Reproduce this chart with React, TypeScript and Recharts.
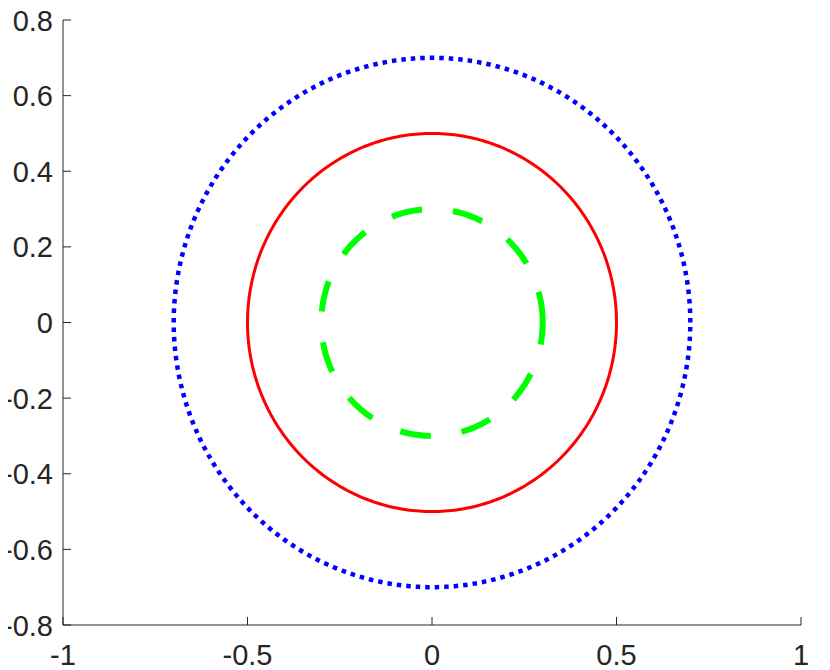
import React from "react";
import { LineChart, Line, XAxis, YAxis } from "recharts";

// Circle radii
const seriesNames = ["outer", "middle", "inner"];
const radii = [0.7, 0.5, 0.3];
const colors = ["#0000ff", "#ff0000", "#00ff00"];
const xTicks = [-1, -0.5, 0, 0.5, 1];
const yTicks = [-0.8, -0.6, -0.4, -0.2, 0, 0.2, 0.4, 0.6, 0.8];

const STEPS = 360;
const circle = (r: number) => {
  const pts: { x: number; y: number }[] = [];
  for (let i = 0; i <= STEPS; i++) {
    const t = (i / STEPS) * 2 * Math.PI;
    pts.push({ x: r * Math.cos(t), y: r * Math.sin(t) });
  }
  return pts;
};

const FONT = "'Liberation Sans', Arial, Helvetica, sans-serif";
const TXT = "#262626";
const AX = "#262626";
const FS = 29;
const TL = 8;

const fmt = (v: number) => (v === 0 ? "0" : String(v));

const BottomTick = (p: any) => (
  <g>
    <line x1={p.x} x2={p.x} y1={p.y} y2={p.y - TL} stroke={AX} strokeWidth={1} />
    <text x={p.x} y={p.y + 40} textAnchor="middle" fill={TXT} fontSize={FS} fontFamily={FONT}>
      {fmt(p.payload.value)}
    </text>
  </g>
);
const TopTick = (p: any) => (
  <line x1={p.x} x2={p.x} y1={p.y} y2={p.y + TL} stroke={AX} strokeWidth={1} />
);
const LeftTick = (p: any) => (
  <g>
    <line x1={p.x} x2={p.x + TL} y1={p.y} y2={p.y} stroke={AX} strokeWidth={1} />
    <text x={p.x - 10} y={p.y + 10.5} textAnchor="end" fill={TXT} fontSize={FS} fontFamily={FONT}>
      {fmt(p.payload.value)}
    </text>
  </g>
);
const RightTick = (p: any) => (
  <line x1={p.x} x2={p.x - TL} y1={p.y} y2={p.y} stroke={AX} strokeWidth={1} />
);

export default function App() {
  const styles = [
    { strokeWidth: 4.5, strokeDasharray: "4.5 5" },
    { strokeWidth: 3, strokeDasharray: undefined },
    { strokeWidth: 6, strokeDasharray: "31 31" },
  ];
  return (
    <div style={{ marginTop: -8, marginLeft: -8, width: 830, height: 670 }}>
      <LineChart width={830} height={670} margin={{ top: 20, right: 29, bottom: 0, left: 0 }}>
        <XAxis
          xAxisId="b"
          type="number"
          dataKey="x"
          domain={[-1, 1]}
          ticks={xTicks}
          allowDataOverflow
          tickSize={0}
          tickMargin={0}
          height={45}
          tick={<BottomTick />}
          axisLine={{ stroke: AX, strokeWidth: 1 }}
          tickLine={false}
        />
        <XAxis
          xAxisId="t"
          orientation="top"
          type="number"
          dataKey="x"
          domain={[-1, 1]}
          ticks={xTicks}
          allowDataOverflow
          tickSize={0}
          tickMargin={0}
          height={0}
          tick={<TopTick />}
          axisLine={{ stroke: AX, strokeWidth: 1 }}
          tickLine={false}
        />
        <YAxis
          yAxisId="l"
          type="number"
          domain={[-0.8, 0.8]}
          ticks={yTicks}
          allowDataOverflow
          tickSize={0}
          tickMargin={0}
          width={63}
          tick={<LeftTick />}
          axisLine={{ stroke: AX, strokeWidth: 1 }}
          tickLine={false}
        />
        <YAxis
          yAxisId="r"
          orientation="right"
          type="number"
          domain={[-0.8, 0.8]}
          ticks={yTicks}
          allowDataOverflow
          tickSize={0}
          tickMargin={0}
          width={0}
          tick={<RightTick />}
          axisLine={{ stroke: AX, strokeWidth: 1 }}
          tickLine={false}
        />
        {radii.map((r, i) => (
          <Line
            key={seriesNames[i]}
            name={seriesNames[i]}
            xAxisId="b"
            yAxisId="l"
            data={circle(r)}
            dataKey="y"
            type="linear"
            stroke={colors[i]}
            strokeWidth={styles[i].strokeWidth}
            strokeDasharray={styles[i].strokeDasharray}
            dot={false}
            activeDot={false}
            isAnimationActive={false}
          />
        ))}
      </LineChart>
    </div>
  );
}
